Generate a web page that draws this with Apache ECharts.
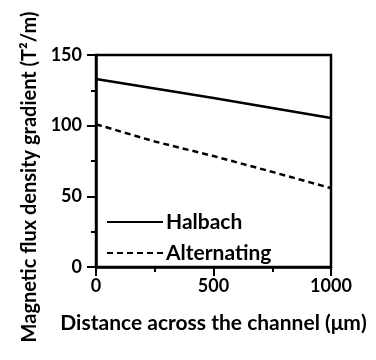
<!DOCTYPE html>
<html><head><meta charset="utf-8">
<script src="https://cdn.jsdelivr.net/npm/echarts@6/dist/echarts.min.js"></script>
<style>html,body{margin:0;padding:0;background:#fff}#c{width:376px;height:360px}</style>
</head><body><div id="c"></div>
<script>
const distances = [0, 250, 500, 750, 1000];
const halbach = [133, 126.3, 119.5, 112.5, 105.5];
const alternating = [101, 88.8, 78.5, 67.3, 55.8];
const seriesNames = ['Halbach', 'Alternating'];
const xTitle = 'Distance across the channel (\u03bcm)';
const yTitle = 'Magnetic flux density gradient (T\u00b2/m)';

const font = 'Lato, "Open Sans", sans-serif';
const chart = echarts.init(document.getElementById('c'), null, {renderer: 'canvas'});
const axisCommon = {
  axisLine: {show: true, lineStyle: {color: '#000', width: 2.5}},
  axisTick: {show: true, inside: false, length: 9, lineStyle: {color: '#000', width: 2}},
  minorTick: {show: true, splitNumber: 2, length: 5, lineStyle: {color: '#000', width: 2}},
  splitLine: {show: false},
  axisLabel: {color: '#000', fontFamily: font, fontWeight: 'bold', fontSize: 18, formatter: v => String(v)},
  nameLocation: 'middle'
};
chart.setOption({
  animation: false,
  grid: {left: 96, right: 45, top: 55, bottom: 93, show: true, borderColor: '#000', borderWidth: 2.5, backgroundColor: 'transparent'},
  legend: {
    orient: 'vertical', left: 101, top: 206, itemWidth: 56, itemHeight: 14, itemGap: 9,
    itemStyle: {opacity: 0},
    textStyle: {color: '#000', fontFamily: font, fontWeight: 'bold', fontSize: 21, lineHeight: 22, padding: [0,0,0,-2]},
    data: seriesNames
  },
  xAxis: Object.assign({}, axisCommon, {
    type: 'value', min: 0, max: 1000, interval: 500,
    axisLabel: Object.assign({}, axisCommon.axisLabel, {margin: 10}),
    name: xTitle, nameGap: 46,
    nameTextStyle: {color: '#000', fontFamily: font, fontWeight: 'bold', fontSize: 21}
  }),
  yAxis: Object.assign({}, axisCommon, {
    type: 'value', min: 0, max: 150, interval: 50,
    axisLabel: Object.assign({}, axisCommon.axisLabel, {margin: 14}),
    name: yTitle, nameGap: 48,
    nameTextStyle: {color: '#000', fontFamily: font, fontWeight: 'bold', fontSize: 20, padding: [0, 32, 0, 0]}
  }),
  series: [
    {name: seriesNames[0], type: 'line', symbol: 'none', data: distances.map((d, i) => [d, halbach[i]]),
     lineStyle: {color: '#000', width: 2.5, type: 'solid'}, itemStyle: {color: '#000'}},
    {name: seriesNames[1], type: 'line', symbol: 'none', data: distances.map((d, i) => [d, alternating[i]]),
     lineStyle: {color: '#000', width: 2.5, type: [6, 4]}, itemStyle: {color: '#000'}}
  ]
});
</script></body></html>
